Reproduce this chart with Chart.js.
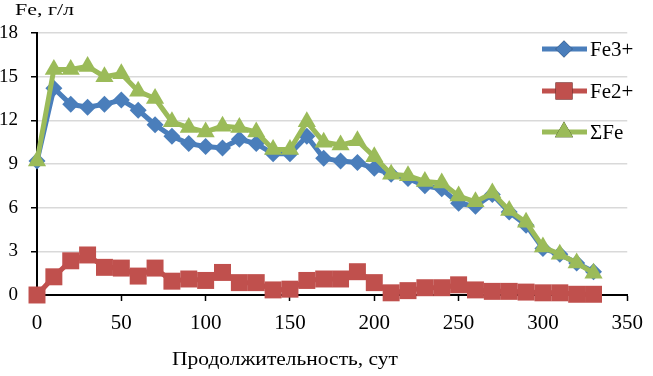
<!DOCTYPE html>
<html>
<head>
<meta charset="utf-8">
<script src="https://cdn.jsdelivr.net/npm/chart.js@4"></script>
<style>
  html, body { margin: 0; padding: 0; background: #fff; }
  #wrap { width: 653px; height: 376px; }
</style>
</head>
<body>
<div id="wrap"><canvas id="feChart" width="653" height="376"></canvas></div>
<script>
const days = [0, 10, 20, 30, 40, 50, 60, 70, 80, 90, 100, 110, 120, 130, 140, 150, 160,
              170, 180, 190, 200, 210, 220, 230, 240, 250, 260, 270, 280, 290, 300, 310, 320, 330];
const fe3 = [9.2, 14.2, 13.1, 12.9, 13.1, 13.4, 12.7, 11.7, 10.9, 10.4, 10.2, 10.1, 10.7, 10.4, 9.7, 9.7, 10.9,
             9.4, 9.2, 9.1, 8.7, 8.3, 8.0, 7.5, 7.3, 6.3, 6.1, 6.9, 5.7, 4.8, 3.2, 2.8, 2.2, 1.6];
const fe2 = [0, 1.25, 2.35, 2.75, 1.9, 1.85, 1.3, 1.85, 0.95, 1.1, 1.0, 1.55, 0.85, 0.85, 0.35, 0.4, 1.0,
             1.1, 1.1, 1.6, 0.85, 0.15, 0.3, 0.5, 0.5, 0.7, 0.35, 0.25, 0.25, 0.2, 0.15, 0.15, 0.05, 0.05];
const feSum = [9.2, 15.5, 15.5, 15.7, 15.0, 15.2, 14.0, 13.5, 11.9, 11.5, 11.2, 11.6, 11.5, 11.2, 10.0, 10.0, 11.9,
               10.5, 10.3, 10.6, 9.5, 8.3, 8.2, 7.8, 7.7, 6.8, 6.4, 7.0, 5.8, 5.0, 3.3, 2.8, 2.2, 1.5];
const seriesNames = ["Fe3+", "Fe2+", "ΣFe"];
const yTitle = "Fe, г/л";
const xTitle = "Продолжительность, сут";

const serif = "Liberation Serif";
const colors = ["#4a7ebb", "#c0504d", "#9bbb59"];
const shapes = ["rectRot", "rect", "triangle"];
const radii = [8.5, 12, 10.5];

const toPoints = vals => vals.map((v, i) => ({ x: days[i], y: v }));

// text squeezed/stretched to a given width, left edge at x
function fitText(ctx, text, x, y, size, width) {
    ctx.font = size + "px '" + serif + "'";
    const sx = width / ctx.measureText(text).width;
    ctx.save();
    ctx.translate(x, y);
    ctx.scale(sx, 1);
    ctx.textAlign = "left";
    ctx.fillText(text, 0, 0);
    ctx.restore();
}

// legend + axis titles drawn inside the chart, like the original
const extras = {
    id: "extras",
    afterDraw(chart) {
        const ctx = chart.ctx;
        ctx.save();
        ctx.fillStyle = "#000";
        ctx.textBaseline = "middle";
        fitText(ctx, yTitle, 15, 11, 17, 59);
        fitText(ctx, xTitle, 172, 360, 19, 226);

        const rows = [49, 91, 132];
        chart.data.datasets.forEach((ds, i) => {
            const y = rows[i];
            ctx.strokeStyle = ds.borderColor;
            ctx.lineWidth = 5;
            ctx.beginPath();
            ctx.moveTo(542, y);
            ctx.lineTo(587, y);
            ctx.stroke();
            Chart.helpers.drawPoint(ctx, {
                pointStyle: ds.pointStyle, radius: ds.pointRadius, borderWidth: 0
            }, 564, y);
            ctx.fillStyle = ds.backgroundColor;
            ctx.fill();
            ctx.fillStyle = "#000";
            ctx.font = "21px '" + serif + "'";
            ctx.textAlign = "left";
            ctx.fillText(ds.label, 590, y + 1);
        });
        ctx.restore();
    }
};

function draw() {
    new Chart(document.getElementById("feChart").getContext("2d"), {
        type: "line",
        data: {
            datasets: [fe3, fe2, feSum].map((vals, i) => ({
                label: seriesNames[i],
                data: toPoints(vals),
                order: 2 - i,
                borderColor: colors[i],
                backgroundColor: colors[i],
                borderWidth: 5,
                pointStyle: shapes[i],
                pointRadius: radii[i],
                pointHoverRadius: radii[i],
                pointBorderWidth: 0,
                tension: 0,
                clip: false
            }))
        },
        options: {
            responsive: false,
            animation: false,
            events: [],
            layout: { padding: { top: 33, right: 16, left: 0, bottom: 0 } },
            plugins: { legend: { display: false }, tooltip: { enabled: false } },
            scales: {
                x: {
                    type: "linear",
                    min: 0,
                    max: 350,
                    afterFit: s => { s.height = 81; },
                    ticks: { stepSize: 50, color: "#000", font: { family: "'" + serif + "'", size: 21 }, padding: 10, maxRotation: 0 },
                    grid: { drawOnChartArea: false, color: "#000", tickLength: 6, tickWidth: 1.5 },
                    border: { color: "#000", width: 2 }
                },
                y: {
                    min: 0,
                    max: 18,
                    afterFit: s => { s.width = 37; },
                    ticks: { stepSize: 3, color: "#000", font: { family: "'" + serif + "'", size: 19 }, padding: 13 },
                    grid: { color: "#d9d9d9", lineWidth: 1.5, tickColor: "#000", tickLength: 6, tickWidth: 1.5 },
                    border: { color: "#000", width: 2 }
                }
            }
        },
        plugins: [extras]
    });
}

document.fonts.load("18px '" + serif + "'").then(draw, draw);
</script>
</body>
</html>
